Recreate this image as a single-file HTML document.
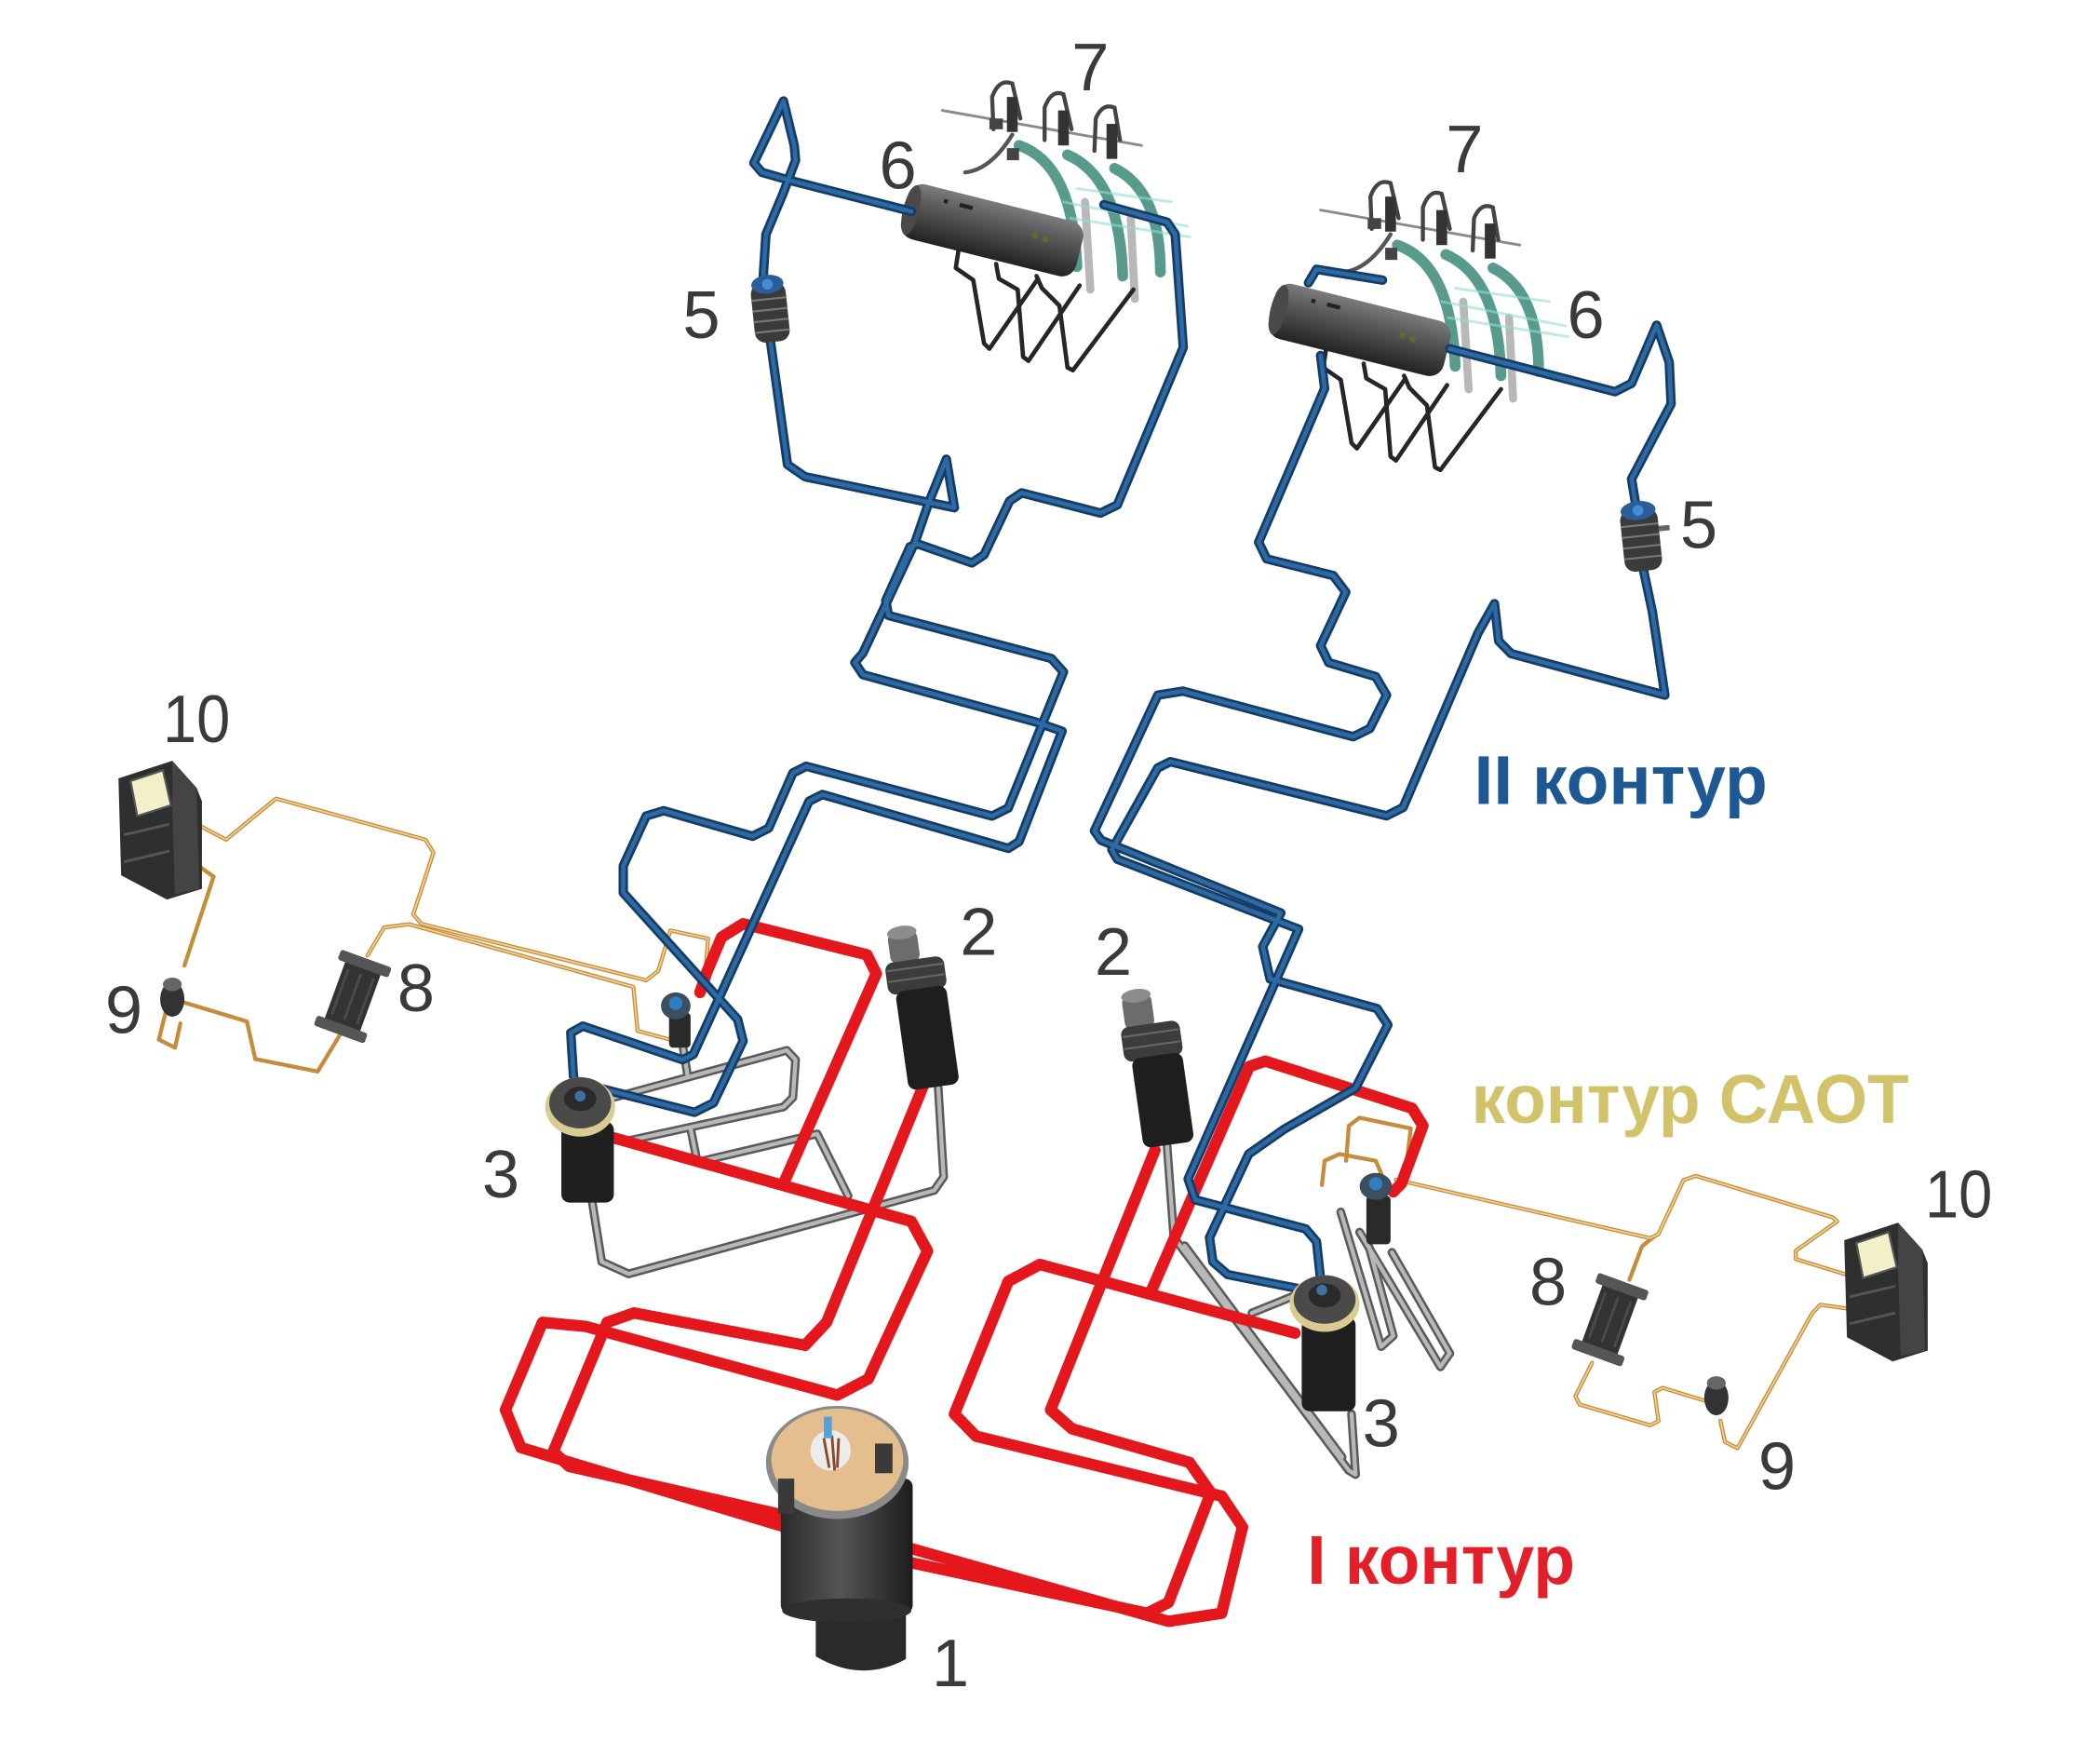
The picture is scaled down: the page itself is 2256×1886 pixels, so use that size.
<!DOCTYPE html>
<html><head><meta charset="utf-8">
<style>
html,body{margin:0;padding:0;background:#fff;}
svg{display:block;}
.b1{fill:none;stroke:#163c66;stroke-width:7;stroke-linejoin:round;stroke-linecap:round}
.b2{fill:none;stroke:#2b6aa3;stroke-width:3.2;stroke-linejoin:round;stroke-linecap:round}
.r1{fill:none;stroke:#e4171d;stroke-width:8.5;stroke-linejoin:round;stroke-linecap:round}
.g1{fill:none;stroke:#5a5a5a;stroke-width:6.5;stroke-linejoin:round;stroke-linecap:round}
.g2{fill:none;stroke:#b8b8b8;stroke-width:3;stroke-linejoin:round;stroke-linecap:round}
.s1{fill:none;stroke:#c58c3c;stroke-width:3;stroke-linejoin:round;stroke-linecap:round}
.s2{fill:none;stroke:#f2d08e;stroke-width:1.2;stroke-linejoin:round;stroke-linecap:round}
.k{fill:none;stroke:#262626;stroke-width:3.2;stroke-linejoin:round;stroke-linecap:round}
.lab{font-family:"Liberation Sans",sans-serif;font-size:50px;fill:#3a3a3a;text-anchor:middle}
.big{font-family:"Liberation Sans",sans-serif;font-weight:bold;font-size:51px}
</style></head>
<body>
<svg width="2256" height="1886" viewBox="0 0 1560 1304" preserveAspectRatio="none" xmlns="http://www.w3.org/2000/svg">
<defs>
<linearGradient id="cyl" x1="0" y1="0" x2="0" y2="1">
<stop offset="0" stop-color="#7c7c7c"/><stop offset=".35" stop-color="#5a5a5a"/><stop offset=".75" stop-color="#383838"/><stop offset="1" stop-color="#222"/>
</linearGradient>
<linearGradient id="rb" x1="0" y1="0" x2="1" y2="0">
<stop offset="0" stop-color="#2a2a2a"/><stop offset=".45" stop-color="#555"/><stop offset="1" stop-color="#1c1c1c"/>
</linearGradient>

<polyline id="sa1" points="146,612 168,623.5 205,593 316,623.5 322,633 307,679 313,686 480,728 489,721 498,691 526,697 523,735"/>
<polyline id="sa3" points="146,642 158.7,651 137,717"/>
<polyline id="sa4" points="137,744.5 183.4,758.5 189.6,786.4 236,795.7 254.4,765.4"/>
<polyline id="sa5" points="273,709.6 285.3,688.7 303.8,686.3 470.5,732.9 473.6,765.5 507.6,774.7"/>
<polyline id="sa6" points="123,752 118,772 130,778 134,760"/>
<polyline id="st1" points="1037,876 1225.9,919.5 1232,916.4 1250.6,876.3 1259.8,873.2 1361.7,904.1 1364.8,907 1334,928.8 1334,935 1374,947.3"/>
<polyline id="st2" points="1229,918 1219.7,925.7 1210.4,950.4"/>
<polyline id="st3" points="1182.7,1012 1170.3,1036.8 1173.4,1043 1225.9,1058.4 1232,1055.3 1229,1033.7 1235,1030.6 1266,1040"/>
<polyline id="st4" points="1278,1055 1281.4,1070.8 1290.7,1075.4 1346.3,975 1352.4,968.9 1374,972"/>
<polyline id="st5" points="1000,862 1002,836 1010,830 1048,838 1044,872"/>
<polyline id="st6" points="982,880 984,862 995,857 1022,862 1028,876"/>

<polyline id="gr1" points="440,893 447,937 467,946 694,884 701,874 697,808"/>
<polyline id="gr2" points="456,815 584.5,780 591,787 589,815 582,822 467,847"/>
<polyline id="gr3" points="507,775 511,800"/>
<polyline id="gr4" points="513,838 518,863 607,842 630,888"/>
<polyline id="gr5" points="867,851 872,919 1002,1092 1007,1095 1004,1050"/>
<polyline id="gr6" points="880,925 997,1082"/>
<polyline id="gr7" points="930,975 962,962"/>
<polyline id="gr8" points="996,900 1026,1000 1035,992 1017,926"/>
<polyline id="gr9" points="1010,915 1070,1015 1077,1005 1034,930"/>

<polyline id="rp1" points="686,806 614,982 598,999 471,975 451,982 411,1078 423,1089 590,1127"/>
<polyline id="rp2" points="456,845 677,907 689,929 645,1024 622,1036 435,985 403,982 375.5,1047 387,1075 590,1136"/>
<polyline id="rp3" points="520,737 525,722 536,696 552,686 644,709 651,723 582,879"/>
<polyline id="rp4" points="670,1148 868,1204 907.5,1198 923,1134 907.5,1111 725,1066.5 709,1050 749,951.5 772.5,939 962,990"/>
<polyline id="rp5" points="670,1159 852,1198 868,1190 899.5,1108.5 883.6,1086 796.3,1061 780.4,1047 858,854"/>
<polyline id="rp6" points="856,957 928,792 940,788 1049,823 1057,836 1041,879 1035,885"/>

<polyline id="bA" points="677,157 587,134 566,128 560,121 582,75 590,108 591,119 582,143 569,174 567,205 572,251 585,345 598,354 709,377 703,341 690,373 680,402 641,485 635,492 641,501 769,536 789,543 757,625 749,630 611,590 601,595 515,783 507,787 433,762 424,767 426,799 430,812"/>
<polyline id="bB" points="820,152 867,165 873,174 879,258 830,375 817.5,381 759,366 750,372 731,412 722,418 682,404 676,406 658,446 660,457 781,489 790,499 749,600 737,606 599,569 589,574 571,615 559,621 493,602 480,606 463,643 463,663 548,757 552,773 530,819 516,826 441,807 433,814"/>
<polyline id="bR" points="1077,259 1199.7,290.9 1212,284.7 1230.6,241.5 1240,269 1241.4,300 1212,355.7 1215,374 1221,424 1227.5,454.5 1236.8,516.2 1122.6,485.4 1113.3,476 1110.2,448.3 1098,470 1042.3,599.6 1030,605.8 869.4,565.6 860,570.3 826,631 830,638 964.7,690 882.6,875.5 888,891 970,912.6 978,922 981,950"/>
<polyline id="bR2" points="981,264 984,288.5 935,402.7 941,415 990.4,427.4 999.7,439.7 981,479.5 987,492 1022,502.5 1030,516.2 1017.6,541 1005.2,547.1 878.7,513.2 860.1,516.2 813,617 818,624 951.5,678 938,703 943.5,727 1023,749 1031,761 1007,808 954,838.5 927.6,857 914.4,885 898.5,919 901,937 912,946.5 975,959 981,953"/>
<polyline id="bS" points="972,210 978,200 1027,208"/>

<g id="cyl6">
 <g class="k">
  <polyline points="712,186 710,199 723,208 731,255 735,259 771,207"/>
  <polyline points="740,196 742,207 756,215 760,265 764,268 802,212"/>
  <polyline points="770,205 774,214 787,227 793,273 797,275 842,215"/>
 </g>
 <g transform="translate(737,171) rotate(14)">
  <rect x="-67" y="-21" width="134" height="42" rx="11" fill="url(#cyl)"/>
  <ellipse cx="-62" cy="0" rx="6" ry="19" fill="#4a4a4a"/>
  <rect x="-40" y="-14" width="3" height="3" fill="#222"/><rect x="-28" y="-14" width="10" height="3" fill="#222"/>
  <circle cx="32" cy="-4" r="2.5" fill="#663"/><circle cx="40" cy="-3" r="2.5" fill="#663"/>
 </g>
</g>
<g id="comb7">
 <g fill="none" stroke-linecap="round">
  <path d="M757,108 Q797,122 800,198" stroke="#3b8a78" stroke-width="8" opacity=".85"/>
  <path d="M793,115 Q832,132 834,205" stroke="#3b8a78" stroke-width="8" opacity=".85"/>
  <path d="M828,125 Q862,142 862,202" stroke="#3b8a78" stroke-width="8" opacity=".85"/>
  <path d="M806,150 L810,215" stroke="#9a9a9a" stroke-width="6" opacity=".7"/>
  <path d="M840,162 L843,222" stroke="#9a9a9a" stroke-width="6" opacity=".7"/>
  <path d="M790,150 L882,168 M795,162 L884,176 M800,140 L870,150" stroke="#8fdcd4" stroke-width="2" opacity=".6"/>
  <path d="M700,82 L848,108" stroke="#8a8a8a" stroke-width="2"/>
  <path d="M738,96 L737,72 Q742,58 752,62 L758,88" stroke="#444" stroke-width="3"/>
  <path d="M776,104 L776,80 Q781,66 790,70 L796,96" stroke="#444" stroke-width="3"/>
  <path d="M813,112 L814,88 Q819,76 828,80 L832,104" stroke="#444" stroke-width="3"/>
  <path d="M717,128 Q736,126 752,100" stroke="#555" stroke-width="3"/>
 </g>
 <rect x="748" y="72" width="8" height="26" fill="#333"/>
 <rect x="786" y="82" width="8" height="26" fill="#333"/>
 <rect x="822" y="92" width="8" height="26" fill="#333"/>
 <rect x="735" y="88" width="10" height="8" fill="#444"/>
 <rect x="748" y="110" width="9" height="9" fill="#444"/>
</g>
</defs>

<!-- SAOT orange -->
<g>
<use href="#sa1" class="s1"/><use href="#sa3" class="s1"/><use href="#sa4" class="s1"/><use href="#sa5" class="s1"/><use href="#sa6" class="s1"/>
<use href="#st1" class="s1"/><use href="#st2" class="s1"/><use href="#st3" class="s1"/><use href="#st4" class="s1"/><use href="#st5" class="s1"/><use href="#st6" class="s1"/>
<use href="#sa1" class="s2"/><use href="#sa5" class="s2"/><use href="#st1" class="s2"/><use href="#st3" class="s2"/><use href="#st4" class="s2"/>
</g>

<!-- gray pipes -->
<g>
<use href="#gr1" class="g1"/><use href="#gr2" class="g1"/><use href="#gr3" class="g1"/><use href="#gr4" class="g1"/><use href="#gr5" class="g1"/><use href="#gr6" class="g1"/><use href="#gr7" class="g1"/><use href="#gr8" class="g1"/><use href="#gr9" class="g1"/>
<use href="#gr1" class="g2"/><use href="#gr2" class="g2"/><use href="#gr3" class="g2"/><use href="#gr4" class="g2"/><use href="#gr5" class="g2"/><use href="#gr6" class="g2"/><use href="#gr7" class="g2"/><use href="#gr8" class="g2"/><use href="#gr9" class="g2"/>
</g>

<!-- red pipes -->
<g>
<use href="#rp1" class="r1"/><use href="#rp2" class="r1"/><use href="#rp3" class="r1"/><use href="#rp4" class="r1"/><use href="#rp5" class="r1"/><use href="#rp6" class="r1"/>
</g>

<!-- upper components -->
<use href="#comb7"/>
<use href="#comb7" transform="translate(281,74)"/>
<use href="#cyl6"/>
<use href="#cyl6" transform="translate(273,74)"/>

<!-- blue pipes -->
<g>
<use href="#bA" class="b1"/><use href="#bB" class="b1"/><use href="#bR" class="b1"/><use href="#bR2" class="b1"/><use href="#bS" class="b1"/>
<use href="#bA" class="b2"/><use href="#bB" class="b2"/><use href="#bR" class="b2"/><use href="#bR2" class="b2"/><use href="#bS" class="b2"/>
</g>

<!-- device 5 left -->
<g transform="rotate(-6,572,230)">
 <rect x="559" y="210" width="26" height="44" rx="8" fill="#3a3a3a"/>
 <path d="M559,222 H585 M559,230 H585 M559,238 H585 M559,246 H585" stroke="#777" stroke-width="1.5"/>
 <ellipse cx="572" cy="211" rx="12" ry="7" fill="#2a5d9a"/>
 <circle cx="572" cy="211" r="4" fill="#4a8ad0"/>
</g>
<!-- device 5 right -->
<g transform="rotate(-6,1219,400)">
 <rect x="1205" y="378" width="28" height="46" rx="8" fill="#3a3a3a"/>
 <path d="M1205,390 H1233 M1205,398 H1233 M1205,406 H1233 M1205,414 H1233" stroke="#777" stroke-width="1.5"/>
 <ellipse cx="1219" cy="379" rx="13" ry="7" fill="#2a5d9a"/>
 <circle cx="1219" cy="379" r="4" fill="#4a8ad0"/>
 <rect x="1233" y="392" width="8" height="4" fill="#666"/>
</g>

<!-- device 2 left -->
<g transform="rotate(-8,685,750)">
 <rect x="667" y="690" width="22" height="24" rx="6" fill="#6c6c6c"/>
 <ellipse cx="678" cy="691" rx="11" ry="5" fill="#8c8c8c"/>
 <rect x="662" y="712" width="44" height="24" rx="6" fill="#3c3c3c"/>
 <path d="M663,718 H705 M663,726 H705" stroke="#666" stroke-width="1.5"/>
 <rect x="667" y="734" width="38" height="74" rx="6" fill="#1e1e1e"/>
</g>
<!-- device 2 right -->
<g transform="rotate(-8,858,790)">
 <rect x="840" y="737" width="22" height="26" rx="6" fill="#6c6c6c"/>
 <ellipse cx="851" cy="738" rx="11" ry="5" fill="#8c8c8c"/>
 <rect x="836" y="760" width="44" height="26" rx="6" fill="#3c3c3c"/>
 <path d="M837,767 H879 M837,776 H879" stroke="#666" stroke-width="1.5"/>
 <rect x="841" y="784" width="38" height="67" rx="6" fill="#1e1e1e"/>
</g>

<!-- device 3 left -->
<g>
 <rect x="417" y="833" width="39" height="60" rx="6" fill="#1f1f1f"/>
 <ellipse cx="431" cy="822" rx="26" ry="22" fill="#d9cc92"/>
 <ellipse cx="431" cy="819" rx="23" ry="19" fill="#4a4a4a"/>
 <ellipse cx="431" cy="816" rx="12" ry="9" fill="#2a2a2a"/>
 <circle cx="431" cy="814" r="4" fill="#3f70a0"/>
</g>
<!-- device 3 right -->
<g>
 <rect x="967" y="978" width="40" height="70" rx="6" fill="#1f1f1f"/>
 <ellipse cx="984" cy="968" rx="26" ry="21" fill="#d9cc92"/>
 <ellipse cx="984" cy="965" rx="23" ry="18" fill="#4a4a4a"/>
 <ellipse cx="984" cy="962" rx="12" ry="9" fill="#2a2a2a"/>
 <circle cx="982" cy="958" r="4" fill="#3f70a0"/>
</g>

<!-- SAOT pumps -->
<g>
 <rect x="497" y="752" width="16" height="26" rx="3" fill="#2a2a2a"/>
 <ellipse cx="502" cy="747" rx="11" ry="10" fill="#3c4f60"/>
 <circle cx="502" cy="745" r="5" fill="#2f7fc0"/>
 <rect x="1015" y="888" width="18" height="36" rx="3" fill="#2a2a2a"/>
 <ellipse cx="1022" cy="881" rx="12" ry="10" fill="#3c4f60"/>
 <circle cx="1022" cy="879" r="5" fill="#2f7fc0"/>
</g>

<!-- devices 8 -->
<g transform="translate(262,740) rotate(20)">
 <rect x="-14" y="-26" width="28" height="52" rx="4" fill="#333"/>
 <rect x="-20" y="-30" width="40" height="8" rx="2" fill="#555"/>
 <rect x="-20" y="22" width="40" height="8" rx="2" fill="#555"/>
 <path d="M-10,-18 V18 M0,-18 V18 M10,-18 V18" stroke="#4a4a4a" stroke-width="2"/>
</g>
<g transform="translate(1196,980) rotate(20)">
 <rect x="-14" y="-26" width="28" height="52" rx="4" fill="#333"/>
 <rect x="-20" y="-30" width="40" height="8" rx="2" fill="#555"/>
 <rect x="-20" y="22" width="40" height="8" rx="2" fill="#555"/>
 <path d="M-10,-18 V18 M0,-18 V18 M10,-18 V18" stroke="#4a4a4a" stroke-width="2"/>
</g>
<!-- devices 9 -->
<g>
 <ellipse cx="128" cy="742" rx="9" ry="13" fill="#333"/>
 <ellipse cx="128" cy="731" rx="7" ry="5" fill="#666"/>
 <ellipse cx="1275" cy="1038" rx="9" ry="13" fill="#333"/>
 <ellipse cx="1275" cy="1027" rx="7" ry="5" fill="#666"/>
</g>
<!-- devices 10 -->
<g id="dev10">
 <path d="M88,578 L128,565 L146,585 L150,595 L150,660 L124,668 L90,650 Z" fill="#2f2f2f"/>
 <path d="M128,565 L146,585 L148,660 L130,664 L128,600 Z" fill="#444"/>
 <path d="M97,580 L121,572 L127,598 L102,606 Z" fill="#f1f0c9" stroke="#555" stroke-width="1.5"/>
 <path d="M92,620 L126,612 M92,640 L126,632" stroke="#555" stroke-width="2"/>
</g>
<use href="#dev10" transform="translate(1282,343)"/>

<!-- reactor 1 -->
<g>
 <path d="M606,1188 L606,1230 Q640,1250 673,1232 L673,1188 Z" fill="#2a2a2a"/>
 <rect x="580" y="1098" width="98" height="100" rx="6" fill="url(#rb)"/>
 <ellipse cx="629" cy="1196" rx="48" ry="9" fill="#2f2f2f"/>
 <ellipse cx="622" cy="1086" rx="53" ry="42" fill="#8a8a8a"/>
 <ellipse cx="622" cy="1084" rx="49" ry="38" fill="#e4bf8d"/>
 <circle cx="617" cy="1077" r="15" fill="#ececec"/>
 <path d="M612,1068 L616,1090 M618,1066 L620,1092 M623,1068 L622,1090" stroke="#8a4a2a" stroke-width="2"/>
 <rect x="650" y="1072" width="13" height="22" fill="#3a3a3a"/>
 <rect x="578" y="1098" width="12" height="26" fill="#3a3a3a"/>
 <rect x="612" y="1052" width="6" height="16" fill="#5aa0d8"/>
</g>

<!-- labels -->
<g class="lab">
 <text x="810" y="67">7</text>
 <text x="667" y="140">6</text>
 <text x="521" y="251">5</text>
 <text x="1088" y="128">7</text>
 <text x="1178" y="251">6</text>
 <text x="1262" y="407">5</text>
 <text x="146" y="551" textLength="50" lengthAdjust="spacingAndGlyphs">10</text>
 <text x="92" y="767">9</text>
 <text x="309" y="751">8</text>
 <text x="727" y="709">2</text>
 <text x="827" y="724">2</text>
 <text x="372" y="889">3</text>
 <text x="1455" y="904" textLength="50" lengthAdjust="spacingAndGlyphs">10</text>
 <text x="1150" y="969">8</text>
 <text x="1026" y="1074">3</text>
 <text x="1320" y="1106">9</text>
 <text x="706" y="1252">1</text>
</g>
<text class="big" x="1095" y="597" fill="#1d5892" textLength="218" lengthAdjust="spacingAndGlyphs">II контур</text>
<text class="big" x="1093" y="834" fill="#d2c26a" textLength="325" lengthAdjust="spacingAndGlyphs">контур САОТ</text>
<text class="big" x="971" y="1176" fill="#e3202a" textLength="199" lengthAdjust="spacingAndGlyphs">I контур</text>
</svg>
</body></html>
